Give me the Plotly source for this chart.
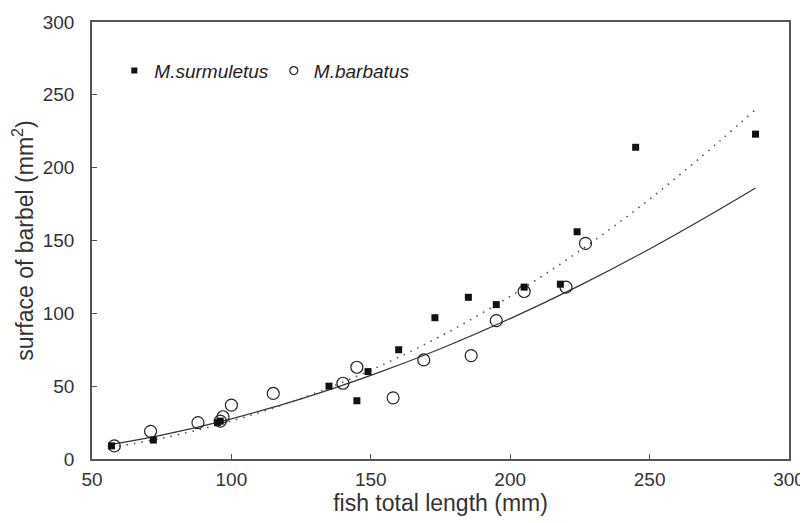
import plotly.graph_objects as go

# --- data ---
surm_len = [57, 72, 95, 96, 135, 145, 149, 160, 173, 185, 195, 205, 218, 224, 245, 288]
surm_area = [9, 13, 25, 26, 50, 40, 60, 75, 97, 111, 106, 118, 120, 156, 214, 223]

barb_len = [58, 71, 88, 96, 97, 100, 115, 140, 145, 158, 169, 186, 195, 205, 220, 227]
barb_area = [9, 19, 25, 26, 29, 37, 45, 52, 63, 42, 68, 71, 95, 115, 118, 148]

# fitted curves
fit_len = [57, 75, 100, 125, 150, 175, 200, 225, 250, 275, 288]
fit_barb = [10, 16.4, 27.6, 41.3, 57.4, 75.7, 96.4, 119.2, 144.2, 171.3, 186]
fit_surm = [8, 14.2, 26.1, 41.6, 61.0, 84.3, 111.7, 143, 178.4, 218, 240]

x_ticks = [50, 100, 150, 200, 250, 300]
y_ticks = [0, 50, 100, 150, 200, 250, 300]

FONT = "Liberation Sans, Arial, sans-serif"
TXT = "#333333"
AX = "#555555"

fig = go.Figure()

fig.add_trace(go.Scatter(x=fit_len, y=fit_barb, mode="lines", line=dict(color="#333", width=1.2, shape="spline"),
                         showlegend=False, hoverinfo="skip"))
fig.add_trace(go.Scatter(x=fit_len, y=fit_surm, mode="lines",
                         line=dict(color="#555", width=1.6, dash="1.5px,6px", shape="spline"),
                         showlegend=False, hoverinfo="skip"))

fig.add_trace(go.Scatter(x=barb_len, y=barb_area, mode="markers", showlegend=False,
                         marker=dict(symbol="circle-open", size=12, color="#222", line=dict(width=1.2, color="#222"))))
fig.add_trace(go.Scatter(x=surm_len, y=surm_area, mode="markers", showlegend=False,
                         marker=dict(symbol="square", size=7, color="#111")))

# legend entries
fig.add_trace(go.Scatter(x=[None], y=[None], mode="markers", name="M.surmuletus",
                         marker=dict(symbol="square", size=6, color="#111")))
fig.add_trace(go.Scatter(x=[None], y=[None], mode="markers", name="M.barbatus",
                         marker=dict(symbol="circle-open", size=8, color="#222", line=dict(width=1.2, color="#222"))))

axis_common = dict(showline=True, linecolor=AX, linewidth=1.5, mirror=True, ticks="inside", ticklen=5,
                   tickcolor=AX, tickwidth=1.2, showgrid=False, zeroline=False, automargin=False,
                   tickfont=dict(family=FONT, size=19, color=TXT))

fig.update_xaxes(range=[50, 300], tickvals=x_ticks, ticklabelstandoff=2, **axis_common,
                 title=dict(text="fish total length (mm)", font=dict(family=FONT, size=23, color=TXT), standoff=6))
fig.update_yaxes(range=[0, 300], tickvals=y_ticks, ticklabelstandoff=12, **axis_common,
                 title=dict(text="surface of barbel (mm<sup>2</sup>)", font=dict(family=FONT, size=23, color=TXT), standoff=6))

# the page body adds an 8px margin, so the figure is sized to fill the 808x523 window
fig.update_layout(
    width=800, height=515,
    margin=dict(l=84, r=19, t=14, b=64),
    paper_bgcolor="white", plot_bgcolor="white",
    legend=dict(orientation="h", x=0.032, y=0.932, xanchor="left", yanchor="top",
                font=dict(family=FONT, size=19, color="#222", style="italic"),
                bgcolor="rgba(0,0,0,0)", itemsizing="trace", tracegroupgap=0),
    font=dict(family=FONT, color=TXT),
)

fig.write_html("out.html")
